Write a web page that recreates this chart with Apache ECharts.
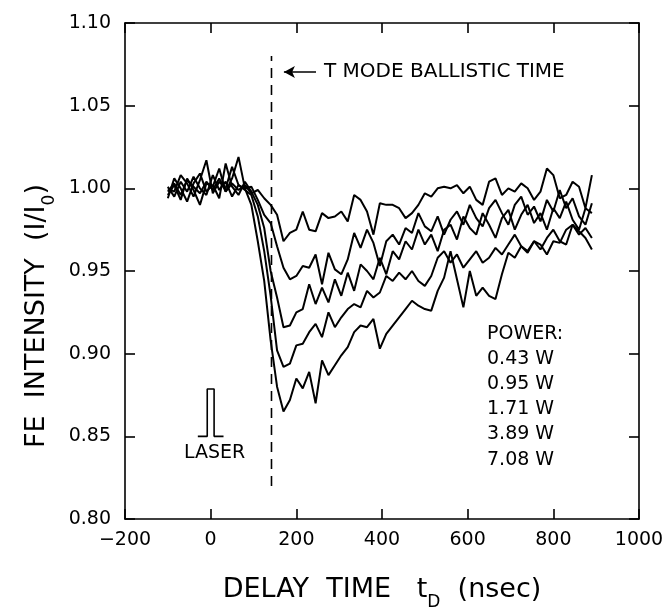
<!DOCTYPE html>
<html>
<head>
<meta charset="utf-8">
<script src="https://cdn.jsdelivr.net/npm/echarts@6/dist/echarts.min.js"></script>
<style>
html,body{margin:0;padding:0;background:#fff;}
#chart{width:667px;height:611px;}
</style>
</head>
<body>
<div id="chart"></div>
<script>
// Delay times (nsec)
const times = [-100,-85,-70,-55,-40,-25,-10,5,20,35,50,65,80,
  95,110,125,140,155,170,185,200,215,230,
  245,260,275,290,305,320,335,350,365,380,
  395,410,425,440,455,470,485,500,515,530,
  545,560,575,590,605,620,635,650,665,680,
  695,710,725,740,755,770,785,800,815,830,
  845,860,875,890];

const p043 = [0.998,1.003,0.996,1.005,1.001,0.997,1.004,0.999,1.006,0.998,1.003,0.999,1.002,
  0.997,0.999,0.994,0.990,0.984,0.968,0.973,0.975,0.986,0.975,
  0.974,0.985,0.982,0.983,0.986,0.980,0.996,0.993,0.986,0.972,
  0.991,0.990,0.990,0.988,0.982,0.985,0.990,0.997,0.995,1.000,
  1.001,1.000,1.002,0.997,1.001,0.993,0.990,1.004,1.006,0.996,
  1.000,0.998,1.003,1.000,0.993,0.998,1.012,1.008,0.994,0.996,
  1.004,1.001,0.988,1.008];

const p095 = [1.001,0.995,1.004,0.998,1.007,1.000,0.996,1.008,0.999,1.004,0.995,1.002,1.000,
  1.001,0.993,0.984,0.979,0.965,0.952,0.945,0.947,0.953,0.952,
  0.960,0.942,0.961,0.951,0.948,0.957,0.973,0.964,0.975,0.967,
  0.953,0.968,0.972,0.966,0.976,0.973,0.985,0.977,0.974,0.983,
  0.972,0.981,0.986,0.978,0.990,0.982,0.977,0.988,0.993,0.985,
  0.978,0.990,0.995,0.984,0.989,0.980,0.993,0.986,0.999,0.988,
  0.994,0.983,0.978,0.991];

const p171 = [0.994,1.006,1.000,0.992,1.003,1.009,0.998,1.002,0.994,1.015,1.001,0.996,1.004,
  0.998,0.990,0.976,0.950,0.934,0.916,0.917,0.925,0.927,0.942,
  0.930,0.940,0.931,0.945,0.935,0.949,0.938,0.954,0.950,0.945,
  0.958,0.948,0.962,0.957,0.968,0.963,0.975,0.966,0.972,0.962,
  0.975,0.978,0.969,0.983,0.976,0.972,0.985,0.978,0.970,0.982,
  0.987,0.975,0.984,0.990,0.979,0.985,0.975,0.988,0.982,0.992,
  0.981,0.975,0.988,0.985];

const p389 = [1.000,0.998,1.008,1.003,0.995,1.005,1.017,0.997,1.004,1.000,1.013,1.002,0.999,
  0.996,0.983,0.962,0.935,0.902,0.892,0.894,0.905,0.906,0.913,
  0.918,0.910,0.925,0.916,0.922,0.927,0.930,0.928,0.938,0.934,
  0.937,0.947,0.944,0.949,0.945,0.950,0.944,0.941,0.947,0.958,
  0.962,0.955,0.960,0.952,0.957,0.962,0.955,0.958,0.964,0.960,
  0.966,0.972,0.965,0.961,0.968,0.963,0.970,0.975,0.968,0.966,
  0.978,0.974,0.970,0.963];

const p708 = [0.996,1.002,0.993,1.006,0.999,0.990,1.003,1.001,1.012,0.998,1.006,1.019,1.000,
  0.990,0.968,0.944,0.908,0.880,0.865,0.872,0.885,0.879,0.889,
  0.870,0.896,0.887,0.893,0.899,0.904,0.913,0.917,0.916,0.921,
  0.903,0.912,0.917,0.922,0.927,0.932,0.929,0.927,0.926,0.938,
  0.946,0.962,0.945,0.928,0.950,0.935,0.940,0.935,0.933,0.948,
  0.961,0.958,0.965,0.962,0.968,0.966,0.960,0.968,0.967,0.975,
  0.978,0.972,0.976,0.970];

const powerLabels = ['0.43 W','0.95 W','1.71 W','3.89 W','7.08 W'];
const powerSeries = [p043, p095, p171, p389, p708];

// T mode ballistic time marker
const ballisticX = [142, 142];
const ballisticY = [0.82, 1.08];
const arrowX = [171, 246];
const arrowY = 1.0704;

// Laser pulse sketch
const laserX = [-30, -8, -8, 8, 8, 30];
const laserY = [0.85, 0.85, 0.8786, 0.8786, 0.85, 0.85];

const xTicks = {min: -200, max: 1000, interval: 200};
const yTicks = {min: 0.80, max: 1.10, interval: 0.05};

const FONT = 'DejaVu Sans';
const chart = echarts.init(document.getElementById('chart'), null, {renderer: 'canvas'});

const baseAxis = {
  axisLine: {show: true, onZero: false, lineStyle: {color: '#000', width: 1.6}},
  axisTick: {show: true, inside: true, length: 10, lineStyle: {color: '#000', width: 1.6}},
  splitLine: {show: false}
};

const series = powerSeries.map((arr, k) => ({
  name: powerLabels[k],
  type: 'line',
  xAxisIndex: 0, yAxisIndex: 0,
  showSymbol: false,
  symbol: 'none',
  lineStyle: {color: '#000', width: 2},
  data: times.map((t, i) => [t, arr[i]]),
  z: 3
}));

series.push({
  name: 'T mode ballistic time',
  type: 'line',
  showSymbol: false, symbol: 'none',
  lineStyle: {color: '#000', width: 1.6, type: [10, 7]},
  data: ballisticX.map((x, i) => [x, ballisticY[i]]),
  markLine: {
    silent: true,
    symbol: ['arrow', 'none'],
    symbolSize: [9, 11],
    lineStyle: {color: '#000', width: 1.6, type: 'solid'},
    label: {show: true, position: 'end', distance: 8, formatter: 'T MODE BALLISTIC TIME',
      color: '#000', fontFamily: FONT, fontSize: 20},
    data: [[{coord: [arrowX[0], arrowY]}, {coord: [arrowX[1], arrowY]}]]
  },
  z: 2
});

series.push({
  name: 'Laser',
  type: 'line',
  showSymbol: false, symbol: 'none',
  lineStyle: {color: '#000', width: 1.6},
  data: laserX.map((x, i) => [x, laserY[i]]),
  z: 2
});

const subStyle = {fontSize: 17, fontFamily: FONT, color: '#000', verticalAlign: 'top', padding: [19, 0, 0, 0], lineHeight: 16};

const option = {
  animation: false,
  backgroundColor: '#fff',
  grid: {left: 125, right: 28, top: 23, bottom: 92, containLabel: false, outerBoundsMode: 'none'},
  xAxis: [
    Object.assign({}, baseAxis, {
      type: 'value', position: 'bottom', min: xTicks.min, max: xTicks.max, interval: xTicks.interval,
      axisLabel: {color: '#000', fontFamily: FONT, fontSize: 19, margin: 12,
        formatter: v => String(v).replace('-', '\u2212')},
      name: 'DELAY  TIME   t{sub|D}  (nsec)',
      nameLocation: 'middle', nameGap: 56,
      nameTextStyle: {color: '#000', fontFamily: FONT, fontSize: 27, verticalAlign: 'top', lineHeight: 30,
        rich: {sub: subStyle}}
    }),
    Object.assign({}, baseAxis, {
      type: 'value', position: 'top', min: xTicks.min, max: xTicks.max, interval: xTicks.interval,
      axisLabel: {show: false}
    })
  ],
  yAxis: [
    Object.assign({}, baseAxis, {
      type: 'value', position: 'left', min: yTicks.min, max: yTicks.max, interval: yTicks.interval,
      axisLabel: {color: '#000', fontFamily: FONT, fontSize: 19, margin: 14,
        formatter: v => v.toFixed(2)},
      name: 'FE  INTENSITY  (I/I{sub|0})',
      nameLocation: 'middle', nameGap: 92,
      nameTextStyle: {color: '#000', fontFamily: FONT, fontSize: 27, verticalAlign: 'top', lineHeight: 30,
        padding: [0, 90, 0, 0],
        rich: {sub: subStyle}}
    }),
    Object.assign({}, baseAxis, {
      type: 'value', position: 'right', min: yTicks.min, max: yTicks.max, interval: yTicks.interval,
      axisLabel: {show: false}
    })
  ],
  graphic: [
    {type: 'text', left: 487, top: 325, style: {text: 'POWER:', fill: '#000', font: '19px "DejaVu Sans"'}},
    {type: 'text', left: 487, top: 350, style: {text: powerLabels[0], fill: '#000', font: '19px "DejaVu Sans"'}},
    {type: 'text', left: 487, top: 375, style: {text: powerLabels[1], fill: '#000', font: '19px "DejaVu Sans"'}},
    {type: 'text', left: 487, top: 400, style: {text: powerLabels[2], fill: '#000', font: '19px "DejaVu Sans"'}},
    {type: 'text', left: 487, top: 425, style: {text: powerLabels[3], fill: '#000', font: '19px "DejaVu Sans"'}},
    {type: 'text', left: 487, top: 451, style: {text: powerLabels[4], fill: '#000', font: '19px "DejaVu Sans"'}},
    {type: 'text', left: 184, top: 444, style: {text: 'LASER', fill: '#000', font: '19px "DejaVu Sans"'}}
  ],
  series: series
};

chart.setOption(option);
</script>
</body>
</html>
